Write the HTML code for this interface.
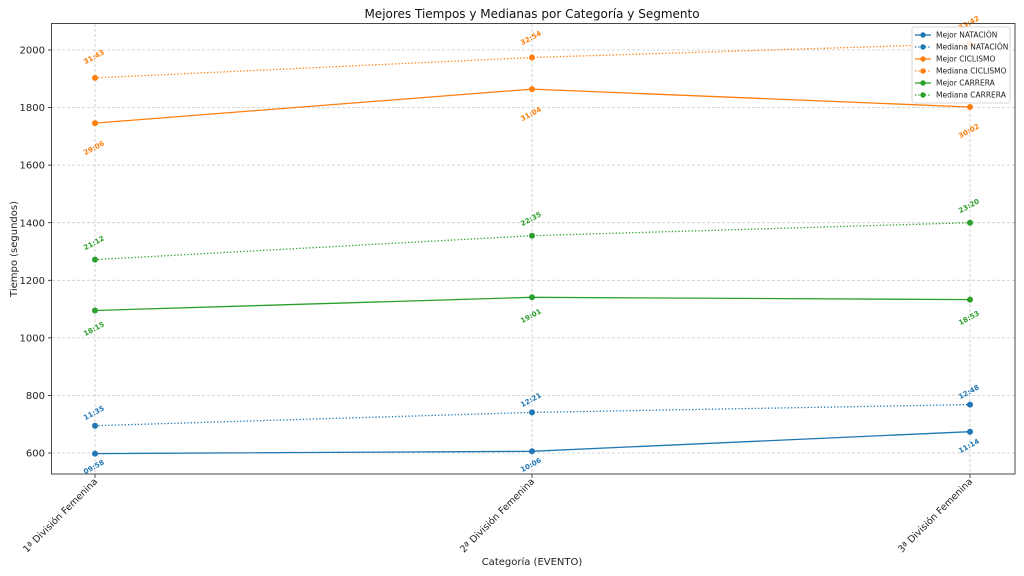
<!DOCTYPE html>
<html><head><meta charset="utf-8"><style>
html,body{margin:0;padding:0;background:#fff;}
svg{display:block;font-family:"DejaVu Sans","Liberation Sans",sans-serif;}
.g{stroke:#c8c8c8;stroke-width:0.8;stroke-dasharray:3,2;}
.tk{font-size:10px;fill:#222;}
.xt{font-size:9.5px;fill:#222;}
.lb{font-size:7px;font-weight:bold;text-anchor:middle;}
</style></head><body>
<svg width="1024" height="576" viewBox="0 0 1024 576">
<rect width="1024" height="576" fill="#fff"/>
<text x="532" y="18" text-anchor="middle" font-size="12" fill="#111">Mejores Tiempos y Medianas por Categoría y Segmento</text>
<g class="g">
<line x1="52" x2="1015" y1="453" y2="453"/>
<line x1="52" x2="1015" y1="395.4" y2="395.4"/>
<line x1="52" x2="1015" y1="337.9" y2="337.9"/>
<line x1="52" x2="1015" y1="280.3" y2="280.3"/>
<line x1="52" x2="1015" y1="222.7" y2="222.7"/>
<line x1="52" x2="1015" y1="165.1" y2="165.1"/>
<line x1="52" x2="1015" y1="107.6" y2="107.6"/>
<line x1="52" x2="1015" y1="50" y2="50"/>
<line x1="95" x2="95" y1="24" y2="474"/>
<line x1="532" x2="532" y1="24" y2="474"/>
<line x1="970" x2="970" y1="24" y2="474"/>
</g>
<g stroke="#222" stroke-width="0.8">
<line x1="48" x2="52" y1="453" y2="453"/><line x1="48" x2="52" y1="395.4" y2="395.4"/>
<line x1="48" x2="52" y1="337.9" y2="337.9"/><line x1="48" x2="52" y1="280.3" y2="280.3"/>
<line x1="48" x2="52" y1="222.7" y2="222.7"/><line x1="48" x2="52" y1="165.1" y2="165.1"/>
<line x1="48" x2="52" y1="107.6" y2="107.6"/><line x1="48" x2="52" y1="50" y2="50"/>
<line x1="95" x2="95" y1="474" y2="478"/><line x1="532" x2="532" y1="474" y2="478"/><line x1="970" x2="970" y1="474" y2="478"/>
</g>
<g class="tk" text-anchor="end">
<text x="45" y="456.5">600</text><text x="45" y="399">800</text><text x="45" y="341.5">1000</text>
<text x="45" y="284">1200</text><text x="45" y="226.5">1400</text><text x="45" y="168.5">1600</text>
<text x="45" y="111">1800</text><text x="45" y="53.5">2000</text>
</g>
<text transform="translate(17,249) rotate(-90)" text-anchor="middle" font-size="10" fill="#222">Tiempo (segundos)</text>
<g class="xt" text-anchor="end">
<text transform="translate(98,482) rotate(-45)">1ª División Femenina</text>
<text transform="translate(535,482) rotate(-45)">2ª División Femenina</text>
<text transform="translate(973,482) rotate(-45)">3ª División Femenina</text>
</g>
<text x="532" y="565" text-anchor="middle" font-size="10" fill="#222">Categoría (EVENTO)</text>
<g stroke-width="1.3" fill="none">
<polyline stroke="#1f77b4" points="95,453.6 532,451.3 970,431.7"/>
<polyline stroke="#1f77b4" stroke-dasharray="1.3,2" points="95,425.7 532,412.4 970,404.6"/>
<polyline stroke="#ff7f0e" points="95,123.1 532,89.1 970,107"/>
<polyline stroke="#ff7f0e" stroke-dasharray="1.3,2" points="95,77.9 532,57.5 970,43.7"/>
<polyline stroke="#2ca02c" points="95,310.5 532,297.3 970,299.6"/>
<polyline stroke="#2ca02c" stroke-dasharray="1.3,2" points="95,259.6 532,235.7 970,222.7"/>
</g>
<g fill="#1f77b4"><circle cx="95" cy="453.6" r="3"/><circle cx="532" cy="451.3" r="3"/><circle cx="970" cy="431.7" r="3"/>
<circle cx="95" cy="425.7" r="3"/><circle cx="532" cy="412.4" r="3"/><circle cx="970" cy="404.6" r="3"/></g>
<g fill="#ff7f0e"><circle cx="95" cy="123.1" r="3"/><circle cx="532" cy="89.1" r="3"/><circle cx="970" cy="107" r="3"/>
<circle cx="95" cy="77.9" r="3"/><circle cx="532" cy="57.5" r="3"/><circle cx="970" cy="43.7" r="3"/></g>
<g fill="#2ca02c"><circle cx="95" cy="310.5" r="3"/><circle cx="532" cy="297.3" r="3"/><circle cx="970" cy="299.6" r="3"/>
<circle cx="95" cy="259.6" r="3"/><circle cx="532" cy="235.7" r="3"/><circle cx="970" cy="222.7" r="3"/></g>
<g class="lb" fill="#1f77b4">
<text transform="translate(95,469) rotate(-28)">09:58</text>
<text transform="translate(532,467) rotate(-28)">10:06</text>
<text transform="translate(970,448) rotate(-28)">11:14</text>
<text transform="translate(95,415) rotate(-28)">11:35</text>
<text transform="translate(532,402) rotate(-28)">12:21</text>
<text transform="translate(970,394) rotate(-28)">12:48</text>
</g>
<g class="lb" fill="#ff7f0e">
<text transform="translate(95,150) rotate(-28)">29:06</text>
<text transform="translate(532,116) rotate(-28)">31:04</text>
<text transform="translate(970,133) rotate(-28)">30:02</text>
<text transform="translate(95,59) rotate(-28)">31:43</text>
<text transform="translate(532,40) rotate(-28)">32:54</text>
<text transform="translate(970,25) rotate(-28)">33:42</text>
</g>
<g class="lb" fill="#2ca02c">
<text transform="translate(95,331) rotate(-28)">18:15</text>
<text transform="translate(532,318) rotate(-28)">19:01</text>
<text transform="translate(970,320) rotate(-28)">18:53</text>
<text transform="translate(95,245) rotate(-28)">21:12</text>
<text transform="translate(532,221) rotate(-28)">22:35</text>
<text transform="translate(970,208) rotate(-28)">23:20</text>
</g>
<rect x="51.5" y="23.5" width="963.5" height="450.5" fill="none" stroke="#333" stroke-width="0.9"/>
<rect x="912" y="27" width="98" height="76" rx="2" fill="#fff" fill-opacity="0.85" stroke="#ccc" stroke-width="0.8"/>
<g font-size="7.5" fill="#222">
<line x1="915" x2="931" y1="35" y2="35" stroke="#1f77b4" stroke-width="1.3"/><circle cx="923" cy="35" r="2.7" fill="#1f77b4"/><text x="936" y="37.5">Mejor NATACIÓN</text>
<line x1="915" x2="931" y1="47" y2="47" stroke="#1f77b4" stroke-width="1.3" stroke-dasharray="1.3,2"/><circle cx="923" cy="47" r="2.7" fill="#1f77b4"/><text x="936" y="49.5">Mediana NATACIÓN</text>
<line x1="915" x2="931" y1="59" y2="59" stroke="#ff7f0e" stroke-width="1.3"/><circle cx="923" cy="59" r="2.7" fill="#ff7f0e"/><text x="936" y="61.5">Mejor CICLISMO</text>
<line x1="915" x2="931" y1="71" y2="71" stroke="#ff7f0e" stroke-width="1.3" stroke-dasharray="1.3,2"/><circle cx="923" cy="71" r="2.7" fill="#ff7f0e"/><text x="936" y="73.5">Mediana CICLISMO</text>
<line x1="915" x2="931" y1="83" y2="83" stroke="#2ca02c" stroke-width="1.3"/><circle cx="923" cy="83" r="2.7" fill="#2ca02c"/><text x="936" y="85.5">Mejor CARRERA</text>
<line x1="915" x2="931" y1="95" y2="95" stroke="#2ca02c" stroke-width="1.3" stroke-dasharray="1.3,2"/><circle cx="923" cy="95" r="2.7" fill="#2ca02c"/><text x="936" y="97.5">Mediana CARRERA</text>
</g>
</svg>
</body></html>
